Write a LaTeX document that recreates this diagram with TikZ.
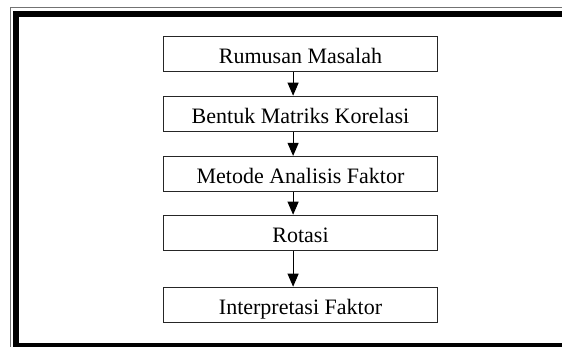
\documentclass[tikz,border=0pt]{standalone}
\usepackage{fontspec}
\setmainfont{Liberation Serif}
\usetikzlibrary{arrows.meta}

\begin{document}
\begin{tikzpicture}[x=1pt, y=-1pt,
  tahap/.style={draw=black!85, line width=1.1pt, minimum width=274pt, minimum height=35.5pt,
    inner sep=0pt, text height=19pt, text depth=0pt, font=\fontsize{22}{24}\selectfont},
  panah/.style={line width=1pt, -{Triangle[length=13pt, width=11pt]}}]

% ── Page ──
\useasboundingbox (0,0) rectangle (562,347);
\clip (0,0) rectangle (562,347);

% ── Frame (runs off the right and bottom) ──
\draw[black!55, line width=0.9pt] (10.5,7.5) rectangle (620,360);
\draw[black, line width=6pt] (16.3,14) rectangle (600,345.7);

% ── Steps ──
\node[tahap] (rumusan) at (300.5, 54.2) {Rumusan Masalah};
\node[tahap] (matriks) at (300.5, 114.0) {Bentuk Matriks Korelasi};
\node[tahap] (metode)  at (300.5, 174.2) {Metode Analisis Faktor};
\node[tahap] (rotasi)  at (300.5, 233.0) {Rotasi};
\node[tahap] (interp)  at (300.5, 305.0) {Interpretasi Faktor};

% ── Arrows (a little left of the box centre) ──
\foreach \a/\b in {rumusan/matriks, matriks/metode, metode/rotasi, rotasi/interp}
  \draw[panah] ([xshift=-7.4]\a.south) -- ([xshift=-7.4]\b.north);

\end{tikzpicture}
\end{document}
